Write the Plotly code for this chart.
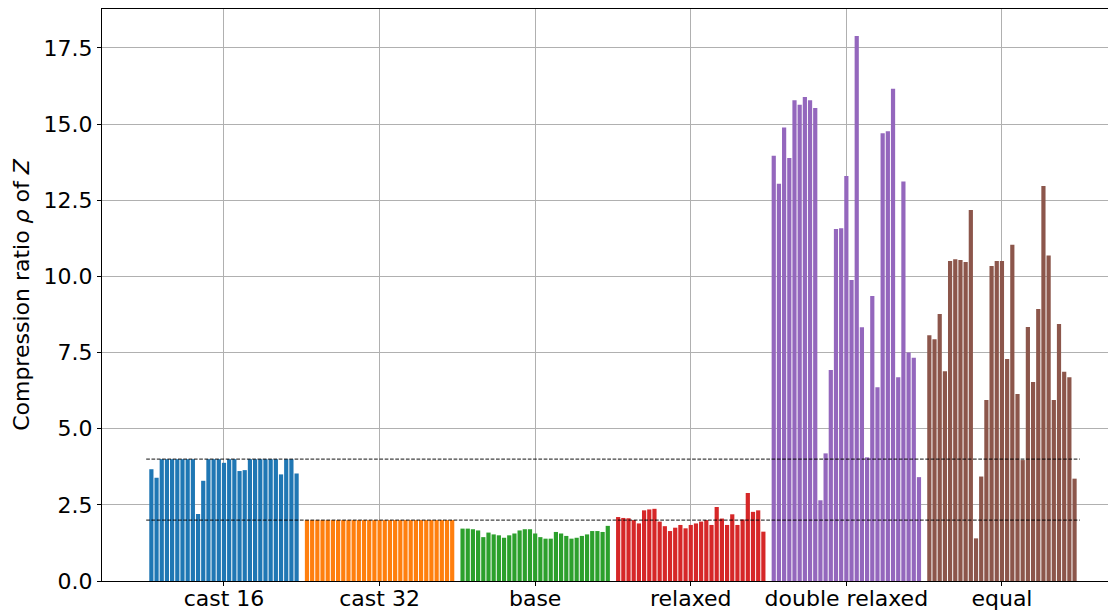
import plotly.graph_objects as go

categories = ["cast 16", "cast 32", "base", "relaxed", "double relaxed", "equal"]
colors = ["#1f77b4", "#ff7f0e", "#2ca02c", "#d62728", "#9467bd", "#8c564b"]

cast16 = [3.67, 3.39, 4.0, 4.0, 4.0, 4.0, 4.0, 4.0, 4.0, 2.2, 3.29, 4.0, 4.0, 4.0, 3.88,
          4.0, 4.0, 3.61, 3.64, 4.0, 4.0, 4.0, 4.0, 4.0, 4.0, 3.5, 4.0, 4.0, 3.53]
cast32 = [2.0] * 29
base = [1.72, 1.72, 1.70, 1.66, 1.44, 1.59, 1.53, 1.50, 1.42, 1.50, 1.56, 1.66, 1.70, 1.70, 1.56,
        1.44, 1.39, 1.39, 1.61, 1.56, 1.48, 1.39, 1.42, 1.48, 1.53, 1.64, 1.64, 1.61, 1.81]
relaxed = [2.10, 2.07, 2.06, 2.00, 1.89, 2.32, 2.35, 2.37, 1.95, 1.80, 1.64, 1.75, 1.84, 1.73, 1.84,
           1.89, 1.95, 2.00, 1.84, 2.43, 2.05, 1.84, 2.19, 1.84, 2.02, 2.89, 2.27, 2.32, 1.62]
double_relaxed = [13.96, 13.04, 14.89, 13.89, 15.78, 15.64, 15.89, 15.78, 15.53, 2.65, 4.19, 6.93,
                  11.56, 11.58, 13.30, 9.88, 17.89, 8.33, 4.06, 9.36, 6.36, 14.70, 14.77, 16.16,
                  6.69, 13.12, 7.50, 7.33, 3.41]
equal = [8.07, 7.94, 8.77, 6.89, 10.51, 10.56, 10.54, 10.47, 12.18, 1.40, 3.43, 5.94, 10.34, 10.51,
         10.51, 7.29, 11.04, 6.14, 3.97, 8.34, 6.53, 8.93, 12.97, 10.69, 5.94, 8.44, 6.87, 6.69, 3.36]

series = [cast16, cast32, base, relaxed, double_relaxed, equal]
ref_levels = [4.0, 2.0]
yticks = [0, 2.5, 5, 7.5, 10, 12.5, 15, 17.5]

slot = 1 / 30
fig = go.Figure()
for g, (vals, col) in enumerate(zip(series, colors)):
    n = len(vals)
    xs = [g + (j - (n - 1) / 2) * slot for j in range(n)]
    fig.add_trace(go.Bar(x=xs, y=vals, width=0.81 * slot, marker=dict(color=col, line=dict(width=0)),
                         showlegend=False))

for lv in ref_levels:
    fig.add_shape(type="line", xref="x", yref="y", x0=-0.5, x1=5.5, y0=lv, y1=lv,
                  line=dict(color="rgba(0,0,0,0.75)", width=1.2, dash="3.7px,1.6px"), layer="above")

font = dict(family="DejaVu Sans", size=22, color="#000000")
fig.update_layout(
    width=1108, height=606,
    margin=dict(l=94, r=0, t=1, b=33, autoexpand=False),
    paper_bgcolor="white", plot_bgcolor="white",
    barmode="overlay",
    font=font,
    xaxis=dict(range=[-0.784, 5.733], tickmode="array", tickvals=list(range(6)), ticktext=categories,
               showgrid=True, gridcolor="#b0b0b0", gridwidth=1, zeroline=False,
               showline=True, linecolor="black", linewidth=1, mirror=True,
               ticks="outside", ticklen=4, tickcolor="black", tickwidth=1,
               ticklabelstandoff=-6, automargin=False,
               layer="above traces", tickfont=font),
    yaxis=dict(range=[0, 18.78], tickmode="array", tickvals=yticks,
               ticktext=[f"{v:.1f}" for v in yticks],
               showgrid=True, gridcolor="#b0b0b0", gridwidth=1, zeroline=False,
               showline=True, linecolor="black", linewidth=1, mirror=False,
               ticks="outside", ticklen=4, tickcolor="black", tickwidth=1,
               automargin=False,
               layer="above traces", tickfont=font,
               title=dict(text="Compression ratio <i>ρ</i> of <i>Z</i>", font=font, standoff=7)),
)

fig.write_html("out.html")
